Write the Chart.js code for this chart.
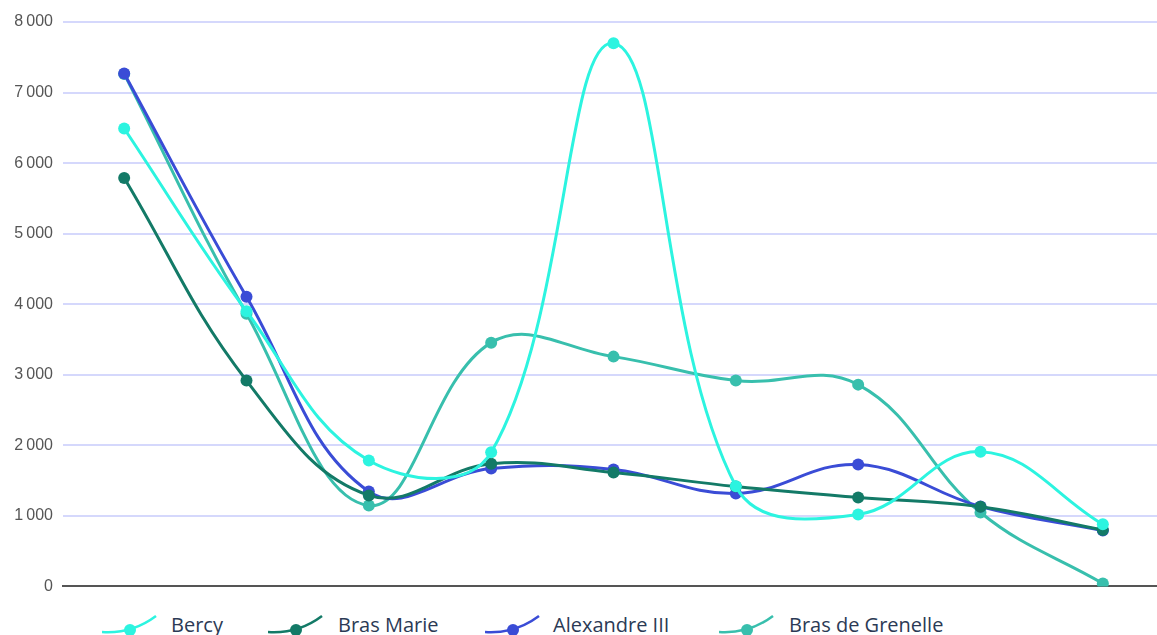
<!DOCTYPE html>
<html>
<head>
<meta charset="utf-8">
<script src="https://cdn.jsdelivr.net/npm/chart.js@4"></script>
<style>
  html, body { margin: 0; padding: 0; background: #fff; overflow: hidden; }
  #wrap { position: relative; width: 1157px; height: 635px; overflow: hidden; }
  #myChart { position: absolute; left: 0; top: 0; }
  .leg { position: absolute; top: 612px; height: 30px; font-family: 'Open Sans', sans-serif;
         font-size: 20px; color: #2b3a55; white-space: nowrap; }
  .leg svg { position: absolute; left: 0; top: 0; }
  .leg span { position: absolute; top: -1px; }
</style>
</head>
<body>
<div id="wrap">
  <canvas id="myChart" width="1170" height="606"></canvas>
  <div id="legend"></div>
</div>
<script>
/** 데이터 */
const labels = ['1', '2', '3', '4', '5', '6', '7', '8', '9'];
const bercy = [6490, 3900, 1785, 1900, 7700, 1420, 1020, 1910, 880];
const brasMarie = [5790, 2917, 1290, 1740, 1615, 1415, 1260, 1130, 800];
const alexandre = [7270, 4106, 1345, 1670, 1657, 1317, 1727, 1133, 793];
const grenelle = [7264, 3865, 1147, 3455, 3257, 2917, 2860, 1048, 42];
const yTicks = [0, 1000, 2000, 3000, 4000, 5000, 6000, 7000, 8000];

const names = ['Bercy', 'Bras Marie', 'Alexandre III', 'Bras de Grenelle'];
const colors = ['#2cf4e0', '#137a67', '#3a4cd6', '#38bfad'];
const series = [bercy, brasMarie, alexandre, grenelle];

const ctx = document.getElementById('myChart').getContext('2d');
const myChart = new Chart(ctx, {
  type: 'line',
  data: {
    labels: labels,
    datasets: series.map((d, i) => ({
      label: names[i],
      data: d,
      borderColor: colors[i],
      backgroundColor: colors[i],
      borderWidth: 3,
      pointRadius: 6,
      pointBorderWidth: 0,
      tension: 0.4,
      fill: false,
    })),
  },
  options: {
    responsive: false,
    animation: false,
    layout: {
      padding: { left: 0, right: 0, top: 22, bottom: 13 },
    },
    plugins: {
      legend: { display: false },
      tooltip: { enabled: false },
    },
    scales: {
      x: {
        offset: true,
        grid: { display: false },
        border: { display: true, color: '#555', width: 2 },
        ticks: { display: false },
        afterFit: (s) => { s.height = 0; },
      },
      y: {
        min: 0,
        max: 8000,
        afterBuildTicks: (s) => { s.ticks = yTicks.map((v) => ({ value: v })); },
        grid: { color: '#d5d8fc', lineWidth: 2, drawTicks: false },
        border: { display: false },
        ticks: {
          padding: 10,
          color: '#555',
          font: { family: 'Liberation Sans', size: 16 },
          callback: (v) => v.toLocaleString('fr-FR'),
        },
        afterFit: (s) => { s.width = 63; },
      },
    },
  },
});

/** 범례 */
const legIcon = [102, 268, 485, 719];
const legText = [171, 338, 553, 789];
const legendEl = document.getElementById('legend');
names.forEach((n, i) => {
  const el = document.createElement('div');
  el.className = 'leg';
  el.style.left = legIcon[i] + 'px';
  el.innerHTML =
    '<svg width="60" height="30"><path d="M0 20 Q 30 22 54 4" stroke="' + colors[i] +
    '" stroke-width="2.5" fill="none"/><circle cx="28" cy="18" r="6" fill="' + colors[i] +
    '"/></svg><span style="left:' + (legText[i] - legIcon[i]) + 'px">' + n + '</span>';
  legendEl.appendChild(el);
});
</script>
</body>
</html>
